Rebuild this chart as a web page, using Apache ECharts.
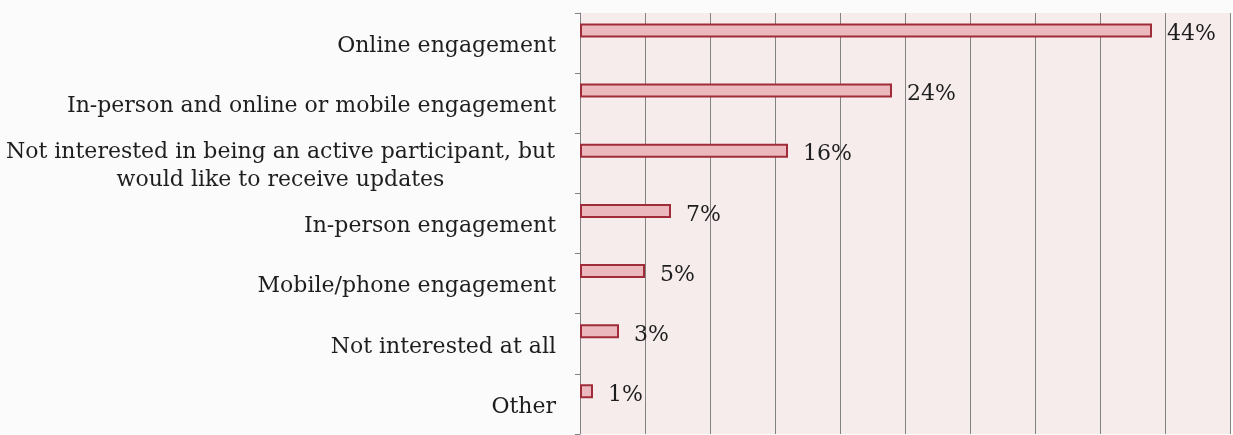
<!DOCTYPE html>
<html><head><meta charset="utf-8">
<script src="https://cdn.jsdelivr.net/npm/echarts@6/dist/echarts.min.js"></script>
<style>html,body{margin:0;padding:0;background:#fcfbfb}#c{width:1233px;height:435px}</style>
</head><body><div id="c"></div>
<script>
const categories = [
  "Online engagement",
  "In-person and online or mobile engagement",
  "Not interested in being an active participant, but\nwould like to receive updates",
  "In-person engagement",
  "Mobile/phone engagement",
  "Not interested at all",
  "Other"
];
const values = [44, 24, 16, 7, 5, 3, 1];
const spacer = [null, null, null, null, null, null, null];
const axisMin = 0, axisMax = 50, axisStep = 5;

const FONT = '"DejaVu Serif", serif';
const FS = 22;
const ctx = document.createElement('canvas').getContext('2d');
ctx.font = FS + 'px ' + FONT;
function fmt(v) {
  if (v.indexOf('\n') < 0) return v;
  return v.split('\n').map(l => '{c|' + l + '}').join('\n');
}
const multiW = Math.max(...categories.filter(c => c.includes('\n')).flatMap(c => c.split('\n')).map(l => ctx.measureText(l).width)) + 2;

const chart = echarts.init(document.getElementById('c'), null, {renderer: 'canvas'});
chart.setOption({
  animation: false,
  backgroundColor: '#fcfbfb',
  grid: {left: 580, right: 3, top: 13, bottom: 1, show: true, backgroundColor: '#f6ecec', borderWidth: 0},
  xAxis: {
    type: 'value', min: axisMin, max: axisMax, interval: axisStep,
    axisLabel: {show: false}, axisLine: {show: false}, axisTick: {show: false},
    splitLine: {show: true, lineStyle: {color: '#828282', width: 1}}
  },
  yAxis: {
    type: 'category', data: categories, inverse: true,
    axisLine: {show: true, lineStyle: {color: '#828282', width: 1}},
    axisTick: {show: true, length: 5, lineStyle: {color: '#828282'}},
    axisLabel: {
      margin: 24, fontFamily: FONT, fontSize: FS, color: '#1e1e1e', lineHeight: 28,
      padding: [6, 0, 0, 0],
      formatter: fmt,
      rich: {c: {width: multiW, align: 'center', fontFamily: FONT, fontSize: FS, color: '#1e1e1e', lineHeight: 28}}
    }
  },
  series: [
    {
      type: 'bar', data: values, barWidth: 14, barGap: '80%',
      itemStyle: {color: '#ebb8be', borderColor: '#a02c39', borderWidth: 2},
      label: {show: true, position: 'right', distance: 15, formatter: '{c}%', fontFamily: FONT, fontSize: FS, color: '#1e1e1e', offset: [0, 4]}
    },
    {type: 'bar', data: spacer, barWidth: 14, silent: true}
  ]
});
</script>
</body></html>
